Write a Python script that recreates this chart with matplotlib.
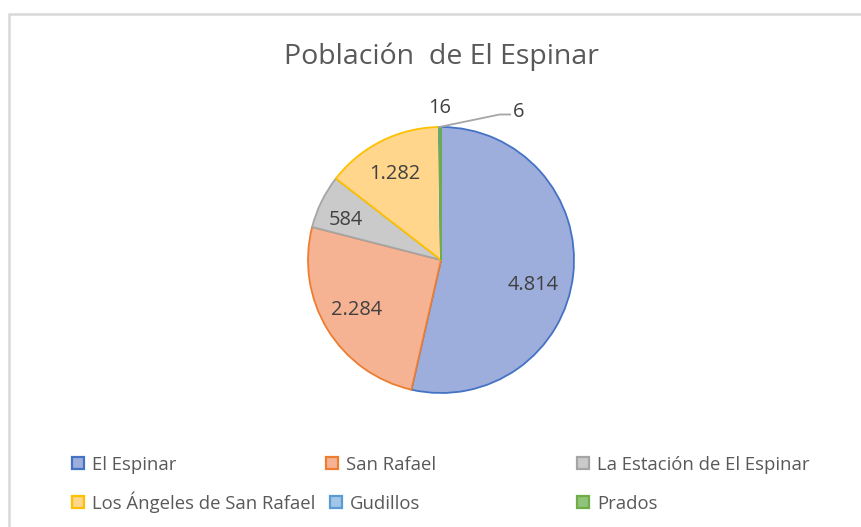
import matplotlib
matplotlib.use("Agg")
import matplotlib.pyplot as plt
from matplotlib.patches import Rectangle
import numpy as np

plt.rcParams["font.family"] = ["Open Sans", "DejaVu Sans"]

# datos
barrios = ["El Espinar", "San Rafael", "La Estación de El Espinar",
           "Los Ángeles de San Rafael", "Gudillos", "Prados"]
poblacion = [4814, 2284, 584, 1282, 6, 16]
colores_relleno = ["#9DAEDD", "#F6B393", "#CACACA", "#FFD68C", "#A3C5E8", "#8FC47A"]
colores_borde = ["#4472C4", "#ED7D31", "#A5A5A5", "#FFC000", "#5B9BD5", "#70AD47"]

W, H, DPI = 861, 527, 100
fig = plt.figure(figsize=(W / DPI, H / DPI), dpi=DPI)

# marco del gráfico
fig.patches.append(Rectangle((9 / W, -0.1), 1, (H - 14) / H + 0.1, transform=fig.transFigure,
                             fill=False, edgecolor="#D9D9D9", linewidth=1.8))

fig.text(441 / W, 1 - 64 / H, "Población  de El Espinar", ha="center", va="baseline",
         fontsize=20.5, color="#595959")

# ejes de la tarta: centro (441, 260) px, radio 133 px
cx, cy, R, half = 441, 260, 133, 200
ax = fig.add_axes([(cx - half) / W, (H - cy - half) / H, 2 * half / W, 2 * half / H])


def fmt(v):
    return f"{v:,}".replace(",", ".")


wedges, _ = ax.pie(poblacion, colors=colores_relleno, startangle=90, counterclock=False,
                   wedgeprops=dict(linewidth=1.3))
for w, ec in zip(wedges, colores_borde):
    w.set_edgecolor(ec)

lim = half / R
ax.set_xlim(-lim, lim)
ax.set_ylim(-lim, lim)
ax.set_aspect("equal")
ax.axis("off")

# etiquetas de datos (distancia radial y giro, estilo "ajuste perfecto" de Excel)
ajuste = {0: (0.71, -7), 1: (0.73, -2), 2: (0.78, 2), 3: (0.75, 1)}
for i, w in enumerate(wedges):
    if i in ajuste:
        d, giro = ajuste[i]
        ang = np.deg2rad((w.theta1 + w.theta2) / 2 + giro)
        ax.text(d * np.cos(ang), d * np.sin(ang) - 0.02, fmt(poblacion[i]), ha="center",
                va="center", fontsize=14.4, color="#404040")
    elif barrios[i] == "Prados":
        ang = np.deg2rad((w.theta1 + w.theta2) / 2)
        ax.text(1.14 * np.cos(ang), 1.14 * np.sin(ang), fmt(poblacion[i]), ha="center",
                va="center", fontsize=14.4, color="#404040")
    else:
        ang = np.deg2rad((w.theta1 + w.theta2) / 2)
        x0, y0 = np.cos(ang), np.sin(ang)
        ax.plot([x0, 0.44, 0.52], [y0, 1.094, 1.094], color="#A6A6A6", linewidth=1.3)
        ax.text(0.54, 1.11, fmt(poblacion[i]), ha="left", va="center",
                fontsize=14.4, color="#404040")

# leyenda (rejilla de Excel)
leg_pos = [(72, 470), (326, 470), (577, 470), (72, 509), (330, 509), (577, 509)]
for (lx, ly), nombre, fc, ec in zip(leg_pos, barrios, colores_relleno, colores_borde):
    fig.patches.append(Rectangle((lx / W, 1 - (ly - 1) / H), 12 / W, 12 / H,
                                 transform=fig.transFigure, facecolor=fc, edgecolor=ec,
                                 linewidth=1.6))
    fig.text((lx + 20) / W, 1 - ly / H, nombre, ha="left", va="baseline",
             fontsize=13.3, color="#595959")

fig.savefig("out.png", dpi=DPI)
